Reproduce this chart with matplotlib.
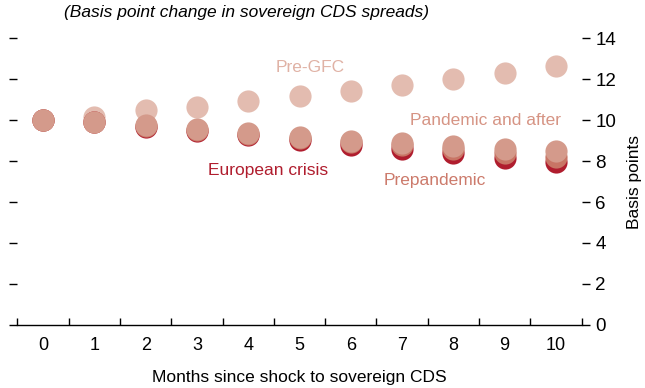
import numpy as np
import matplotlib
matplotlib.use("Agg")
from matplotlib import pyplot as plt
from matplotlib.ticker import FixedLocator, NullFormatter

plt.rcParams['font.family'] = ['Liberation Sans Narrow', 'Liberation Sans', 'DejaVu Sans']

# Cumulative response of sovereign CDS spreads (basis points)
months = np.arange(0, 11)
pre_gfc = [10.0, 10.16, 10.48, 10.62, 10.93, 11.15, 11.4, 11.7, 11.99, 12.28, 12.62]
european_crisis = [10.0, 9.88, 9.68, 9.44, 9.25, 9.02, 8.8, 8.6, 8.4, 8.17, 7.95]
prepandemic = [10.0, 9.9, 9.72, 9.5, 9.32, 9.12, 8.93, 8.78, 8.58, 8.38, 8.2]
pandemic = [10.0, 9.92, 9.75, 9.55, 9.37, 9.18, 9.0, 8.86, 8.72, 8.6, 8.47]

c_pre = "#e3bcb0"
c_euro = "#b01d2e"
c_prep = "#c87565"
c_pand = "#d49a8b"

fig = plt.figure(figsize=(6.45, 3.88), dpi=100)
ax = fig.add_axes([0.0271, 0.1624, 0.8745, 0.7396])

s = 255
ax.scatter(months, pre_gfc, s=s, color=c_pre, linewidths=0, zorder=2)
ax.scatter(months, european_crisis, s=s, color=c_euro, linewidths=0, zorder=3)
ax.scatter(months, prepandemic, s=s, color=c_prep, linewidths=0, zorder=4)
ax.scatter(months, pandemic, s=s, color=c_pand, linewidths=0, zorder=5)

ax.text(5.2, 12.55, "Pre-GFC", color="#e0b2a5", fontsize=12.5, ha="center", va="center")
ax.text(8.62, 10.0, "Pandemic and after", color="#d69484", fontsize=12.5, ha="center", va="center")
ax.text(4.39, 7.56, "European crisis", color=c_euro, fontsize=12.5, ha="center", va="center")
ax.text(7.64, 7.07, "Prepandemic", color="#cc7a6b", fontsize=12.5, ha="center", va="center")

ax.set_xlim(-0.5, 10.5)
ax.set_ylim(0, 14)

for side in ["top", "left", "right"]:
    ax.spines[side].set_visible(False)
ax.spines["bottom"].set_linewidth(1.0)

# x: boundary ticks pointing in, labels centred on each month
ax.xaxis.set_major_locator(FixedLocator(np.arange(-0.5, 11, 1)))
ax.xaxis.set_major_formatter(NullFormatter())
ax.xaxis.set_minor_locator(FixedLocator(months))
ax.set_xticklabels([str(m) for m in months], minor=True)
ax.tick_params(axis="x", which="major", direction="in", length=5, width=1)
ax.tick_params(axis="x", which="minor", length=0, pad=9, labelsize=13)

yt = np.arange(0, 15, 2)
ax.set_yticks(yt)
ax.tick_params(axis="y", direction="out", length=6, width=1, left=True, right=True,
               labelleft=False, labelright=True, labelsize=13.5, pad=4)

ax.set_xlabel("Months since shock to sovereign CDS", fontsize=12.5, labelpad=11)
ax.yaxis.set_label_position("right")
ax.set_ylabel("Basis points", fontsize=12.5, labelpad=8)

fig.text(0.1, 0.968, "(Basis point change in sovereign CDS spreads)", fontsize=12.5,
         style="italic", ha="left", va="center")

fig.savefig("out.png", dpi=100)
